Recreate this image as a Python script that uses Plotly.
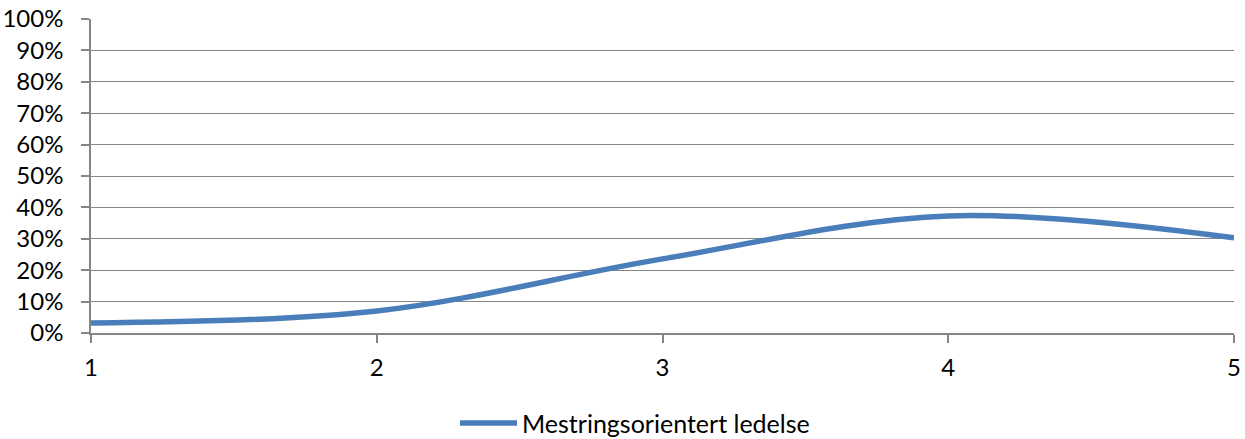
import plotly.graph_objects as go

# Scale positions and share of respondents
x_values = [1, 2, 3, 4, 5]
share = [0.032, 0.07, 0.236, 0.373, 0.303]
series_name = "Mestringsorientert ledelse"

y_ticks = [i / 10 for i in range(11)]
y_tick_labels = [f"{i * 10}%" for i in range(11)]

FONT = "Lato, Open Sans, sans-serif"
GRID = "#868686"
LINE_COLOR = "#4a7ebb"

fig = go.Figure()
fig.add_trace(go.Scatter(
    x=x_values,
    y=share,
    name=series_name,
    mode="lines",
    line=dict(color=LINE_COLOR, width=5.5, shape="spline", smoothing=1.0),
    showlegend=False,
))

# Legend drawn below the plot: a short line sample followed by the series name
fig.add_shape(
    type="line", xref="paper", yref="paper",
    x0=0.3228, x1=0.3727, y0=-0.2866, y1=-0.2866,
    line=dict(color=LINE_COLOR, width=5.5),
)
fig.add_annotation(
    text=series_name, xref="paper", yref="paper",
    x=0.3753, y=-0.2866, xanchor="left", yanchor="middle",
    showarrow=False, font=dict(family=FONT, size=25, color="#000000"),
)

fig.update_layout(
    width=1245,
    height=439,
    margin=dict(l=91, r=11, t=19, b=106, autoexpand=False),
    paper_bgcolor="white",
    plot_bgcolor="white",
    font=dict(family=FONT, size=24, color="#000000"),
    showlegend=False,
    xaxis=dict(
        range=[1, 5],
        tickvals=x_values,
        ticktext=[str(v) for v in x_values],
        tickfont=dict(family=FONT, size=24, color="#000000"),
        showgrid=False,
        zeroline=False,
        showline=True,
        linecolor=GRID,
        linewidth=1.5,
        ticks="outside",
        ticklen=8,
        tickwidth=1.5,
        tickcolor=GRID,
        ticklabelstandoff=4,
        automargin=False,
    ),
    yaxis=dict(
        range=[0, 1],
        tickvals=y_ticks,
        ticktext=y_tick_labels,
        tickfont=dict(family=FONT, size=24, color="#000000"),
        showgrid=True,
        gridcolor=GRID,
        gridwidth=1.2,
        zeroline=False,
        showline=True,
        linecolor=GRID,
        linewidth=1.5,
        ticks="outside",
        ticklen=8,
        tickwidth=1.5,
        tickcolor=GRID,
        ticklabelstandoff=13,
        automargin=False,
    ),
)

fig.write_html("out.html")
